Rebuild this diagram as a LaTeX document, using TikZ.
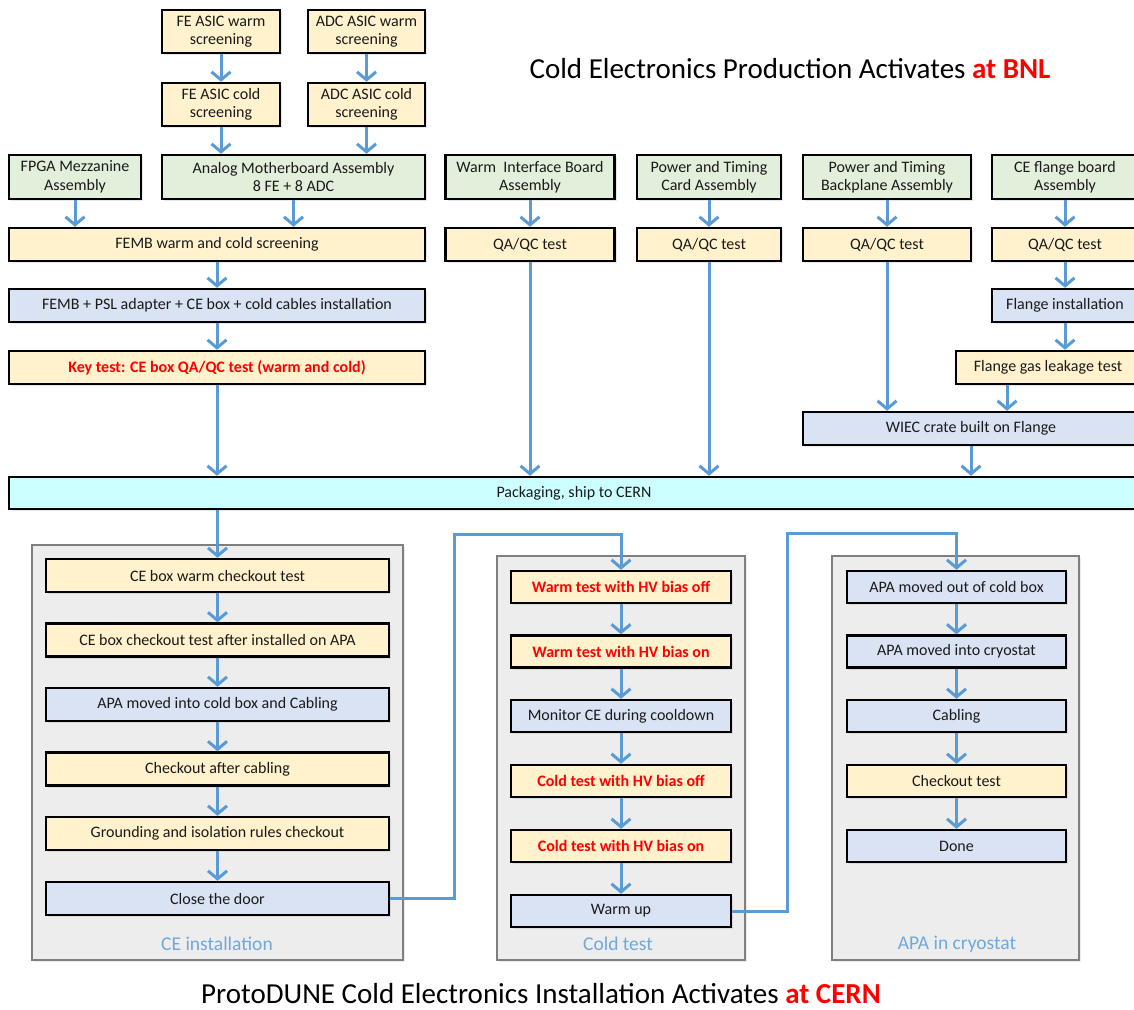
\documentclass[tikz,border=0pt]{standalone}
\usepackage{fontspec}
\setmainfont{Carlito}
\usetikzlibrary{arrows.meta,shadows}
\definecolor{cyel}{HTML}{FFF2CC}
\definecolor{cgrn}{HTML}{E2EFDA}
\definecolor{clav}{HTML}{DAE3F3}
\definecolor{ccyan}{HTML}{CCFFFF}
\definecolor{cgray}{HTML}{EDEDED}
\definecolor{cgrayb}{HTML}{7F7F7F}
\definecolor{cblue}{HTML}{5B9BD5}
\definecolor{clbl}{HTML}{6FA8DC}
\definecolor{cred}{HTML}{FF0000}
\definecolor{ctxt}{HTML}{1A1A1A}
\begin{document}
\begin{tikzpicture}[x=1pt,y=-1pt,
  base/.style={draw=black, line width=2.4pt, inner sep=0pt, align=center, text=ctxt,
    font=\fontsize{16}{18.5}\selectfont,
    drop shadow={shadow xshift=2pt,shadow yshift=-2pt,opacity=0.18}},
  yb/.style={base, fill=cyel},
  gb/.style={base, fill=cgrn},
  lb/.style={base, fill=clav},
  cb/.style={base, fill=ccyan},
  cont/.style={draw=cgrayb, fill=cgray, line width=1.5pt, inner sep=0pt,
    drop shadow={shadow xshift=2pt,shadow yshift=-2pt,opacity=0.15}},
  lbl/.style={text=clbl, font=\fontsize{19.5}{22}\selectfont, inner sep=0pt},
  arr/.style={draw=cblue, line width=3pt, -{Straight Barb[length=8pt,width=19pt]}},
  tt/.style={font=\fontsize{29}{32}\selectfont, inner sep=0pt, anchor=base}
]
\useasboundingbox (0,0) rectangle (1134,1009);
\clip (0,0) rectangle (1134,1009);

% titles
\node[tt] (t1) at (790,78) {Cold Electronics Production Activates \textcolor{cred}{\bfseries at BNL}};
\node[tt] (t2) at (541,1003) {ProtoDUNE Cold Electronics Installation Activates \textcolor{cred}{\bfseries at CERN}};

% top section
\node[yb, minimum width=118pt, minimum height=43pt] (fewarm) at (221,31.5) {FE ASIC warm\\screening};
\node[yb, minimum width=117pt, minimum height=43pt] (adcwarm) at (366.5,31.5) {ADC ASIC warm\\screening};
\node[yb, minimum width=118pt, minimum height=43pt] (fecold) at (221,104.5) {FE ASIC cold\\screening};
\node[yb, minimum width=117pt, minimum height=43pt] (adccold) at (366.5,104.5) {ADC ASIC cold\\screening};

\node[gb, minimum width=132pt, minimum height=44pt] (fpga) at (75,177) {FPGA Mezzanine\\Assembly};
\node[gb, minimum width=263pt, minimum height=44pt] (amb) at (293.5,177) {Analog Motherboard Assembly\\8 FE + 8 ADC};
\node[gb, minimum width=169pt, minimum height=44pt] (wib) at (530,177) {Warm\ \ Interface Board\\Assembly};
\node[gb, minimum width=144pt, minimum height=44pt] (ptc) at (709,177) {Power and Timing\\Card Assembly};
\node[gb, minimum width=168pt, minimum height=44pt] (ptb) at (887,177) {Power and Timing\\Backplane Assembly};
\node[gb, minimum width=146pt, minimum height=44pt] (cef) at (1065,177) {CE flange board\\Assembly};

\node[yb, minimum width=416pt, minimum height=33pt] (femb) at (217,244.5) {FEMB warm and cold screening};
\node[yb, minimum width=169pt, minimum height=33pt] (qa1) at (530,244.5) {QA/QC test};
\node[yb, minimum width=144pt, minimum height=33pt] (qa2) at (709,244.5) {QA/QC test};
\node[yb, minimum width=168pt, minimum height=33pt] (qa3) at (887,244.5) {QA/QC test};
\node[yb, minimum width=146pt, minimum height=33pt] (qa4) at (1065,244.5) {QA/QC test};

\node[lb, minimum width=416pt, minimum height=33pt] (psl) at (217,305.5) {FEMB + PSL adapter + CE box + cold cables installation};
\node[lb, minimum width=146pt, minimum height=33pt] (flange) at (1065,305.5) {Flange installation};

\node[yb, minimum width=416pt, minimum height=33pt] (key) at (217,367.5) {\textcolor{cred}{\bfseries Key test: CE box QA/QC test (warm and cold)}};
\node[yb, minimum width=184pt, minimum height=33pt] (gas) at (1048,367.5) {Flange gas leakage test};

\node[lb, minimum width=336pt, minimum height=33pt] (wiec) at (971,428.5) {WIEC crate built on Flange};

\node[cb, minimum width=1130pt, minimum height=32pt] (pack) at (574,493) {Packaging, ship to CERN};

% top arrows
\draw[arr] (fewarm) -- (fecold);
\draw[arr] (adcwarm) -- (adccold);
\draw[arr] (fecold.south) -- (fecold.south |- amb.north);
\draw[arr] (adccold.south) -- (adccold.south |- amb.north);
\draw[arr] (fpga.south) -- (fpga.south |- femb.north);
\draw[arr] (amb.south) -- (amb.south |- femb.north);
\draw[arr] (femb) -- (psl);
\draw[arr] (psl) -- (key);
\draw[arr] (key.south) -- (key.south |- pack.north);
\draw[arr] (wib) -- (qa1);
\draw[arr] (ptc) -- (qa2);
\draw[arr] (ptb) -- (qa3);
\draw[arr] (cef) -- (qa4);
\draw[arr] (qa1.south) -- (qa1.south |- pack.north);
\draw[arr] (qa2.south) -- (qa2.south |- pack.north);
\draw[arr] (qa3.south) -- (qa3.south |- wiec.north);
\draw[arr] (qa4) -- (flange);
\draw[arr] (flange.south) -- (flange.south |- gas.north);
\draw[arr] ([xshift=-41pt]gas.south) -- ([xshift=-41pt]gas.south |- wiec.north);
\draw[arr] (wiec.south) -- (wiec.south |- pack.north);

% containers
\node[cont, minimum width=371pt, minimum height=415pt] (ceinst) at (217.5,752.5) {};
\node[cont, minimum width=248pt, minimum height=404pt] (coldt) at (621,758) {};
\node[cont, minimum width=247pt, minimum height=404pt] (apac) at (955.5,758) {};
\node[lbl] (celbl) at (217,944) {CE installation};
\node[lbl] (ctlbl) at (618,944) {Cold test};
\node[lbl] (apalbl) at (957,944) {APA in cryostat};

% CE installation
\node[yb, minimum width=343pt, minimum height=33pt] (ce1) at (217.5,575.5) {CE box warm checkout test};
\node[yb, minimum width=343pt, minimum height=33pt] (ce2) at (217.5,640) {CE box checkout test after installed on APA};
\node[lb, minimum width=343pt, minimum height=33pt] (ce3) at (217.5,704.5) {APA moved into cold box and Cabling};
\node[yb, minimum width=343pt, minimum height=33pt] (ce4) at (217.5,769) {Checkout after cabling};
\node[yb, minimum width=343pt, minimum height=33pt] (ce5) at (217.5,833.5) {Grounding and isolation rules checkout};
\node[lb, minimum width=343pt, minimum height=33pt] (door) at (217.5,898.5) {Close the door};

% Cold test
\node[yb, minimum width=220pt, minimum height=32pt] (wt1) at (621,587) {\textcolor{cred}{\bfseries Warm test with HV bias off}};
\node[yb, minimum width=220pt, minimum height=32pt] (wt2) at (621,651.5) {\textcolor{cred}{\bfseries Warm test with HV bias on}};
\node[lb, minimum width=220pt, minimum height=32pt] (mon) at (621,716) {Monitor CE during cooldown};
\node[yb, minimum width=220pt, minimum height=32pt] (ct1) at (621,781) {\textcolor{cred}{\bfseries Cold test with HV bias off}};
\node[yb, minimum width=220pt, minimum height=32pt] (ct2) at (621,846) {\textcolor{cred}{\bfseries Cold test with HV bias on}};
\node[lb, minimum width=220pt, minimum height=32pt] (wup) at (621,911) {Warm up};

% APA in cryostat
\node[lb, minimum width=219pt, minimum height=32pt] (apa1) at (956.5,587) {APA moved out of cold box};
\node[lb, minimum width=219pt, minimum height=32pt] (apa2) at (956.5,651.5) {APA moved into cryostat};
\node[lb, minimum width=219pt, minimum height=32pt] (apa3) at (956.5,716) {Cabling};
\node[yb, minimum width=219pt, minimum height=32pt] (apa4) at (956.5,781) {Checkout test};
\node[lb, minimum width=219pt, minimum height=32pt] (apa5) at (956.5,846) {Done};

% bottom arrows
\draw[arr] (pack.south -| ce1.north) -- (ce1.north);
\draw[arr] (ce1) -- (ce2);
\draw[arr] (ce2) -- (ce3);
\draw[arr] (ce3) -- (ce4);
\draw[arr] (ce4) -- (ce5);
\draw[arr] (ce5) -- (door);
\draw[arr] (wt1) -- (wt2);
\draw[arr] (wt2) -- (mon);
\draw[arr] (mon) -- (ct1);
\draw[arr] (ct1) -- (ct2);
\draw[arr] (ct2) -- (wup);
\draw[arr] (apa1) -- (apa2);
\draw[arr] (apa2) -- (apa3);
\draw[arr] (apa3) -- (apa4);
\draw[arr] (apa4) -- (apa5);

\coordinate (l1) at (454,534);
\coordinate (l2) at (787,533);
\draw[arr] (door.east) -| (l1) -| (wt1.north);
\draw[arr] (wup.east) -| (l2) -| (apa1.north);
\end{tikzpicture}
\end{document}
